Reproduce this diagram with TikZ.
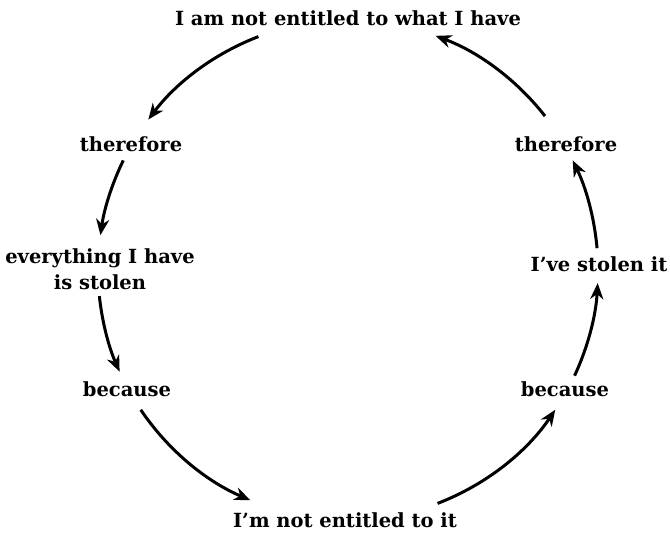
\documentclass[tikz,border=0pt]{standalone}
\usepackage{fontspec}
\setmainfont{DejaVu Serif}
\usetikzlibrary{arrows.meta}
\begin{document}
\begin{tikzpicture}[x=1pt,y=1pt,
  lbl/.style={font=\fontsize{19.5}{26}\selectfont\bfseries, anchor=base, inner sep=0pt, align=center},
  arr/.style={line width=3pt, -{Stealth[length=16pt, width=13pt, inset=5pt]}}]
\useasboundingbox (0,0) rectangle (670,536);
\coordinate (C) at (348,266);
\node[lbl] (top) at (348,510) {I am not entitled to what I have};
\node[lbl] (thL) at (131,384) {therefore};
\node[lbl] (ev) at (100,246) {everything I have\\is stolen};
\node[lbl] (beL) at (127,139) {because};
\node[lbl] (bot) at (345,9) {I’m not entitled to it};
\node[lbl] (beR) at (565,139) {because};
\node[lbl] (st) at (599,264) {I’ve stolen it};
\node[lbl] (thR) at (566,384) {therefore};
\draw[arr] (C) ++(111:250) arc[start angle=111, end angle=143, radius=250];
\draw[arr] (C) ++(154:250) arc[start angle=154, end angle=172, radius=250];
\draw[arr] (C) ++(186:250) arc[start angle=186, end angle=204, radius=250];
\draw[arr] (C) ++(214:250) arc[start angle=214, end angle=247, radius=250];
\draw[arr] (C) ++(291:250) arc[start angle=291, end angle=326, radius=250];
\draw[arr] (C) ++(335:250) arc[start angle=335, end angle=357, radius=250];
\draw[arr] (C) ++(5:250) arc[start angle=5, end angle=26, radius=250];
\draw[arr] (C) ++(38:250) arc[start angle=38, end angle=69.5, radius=250];
\end{tikzpicture}
\end{document}
